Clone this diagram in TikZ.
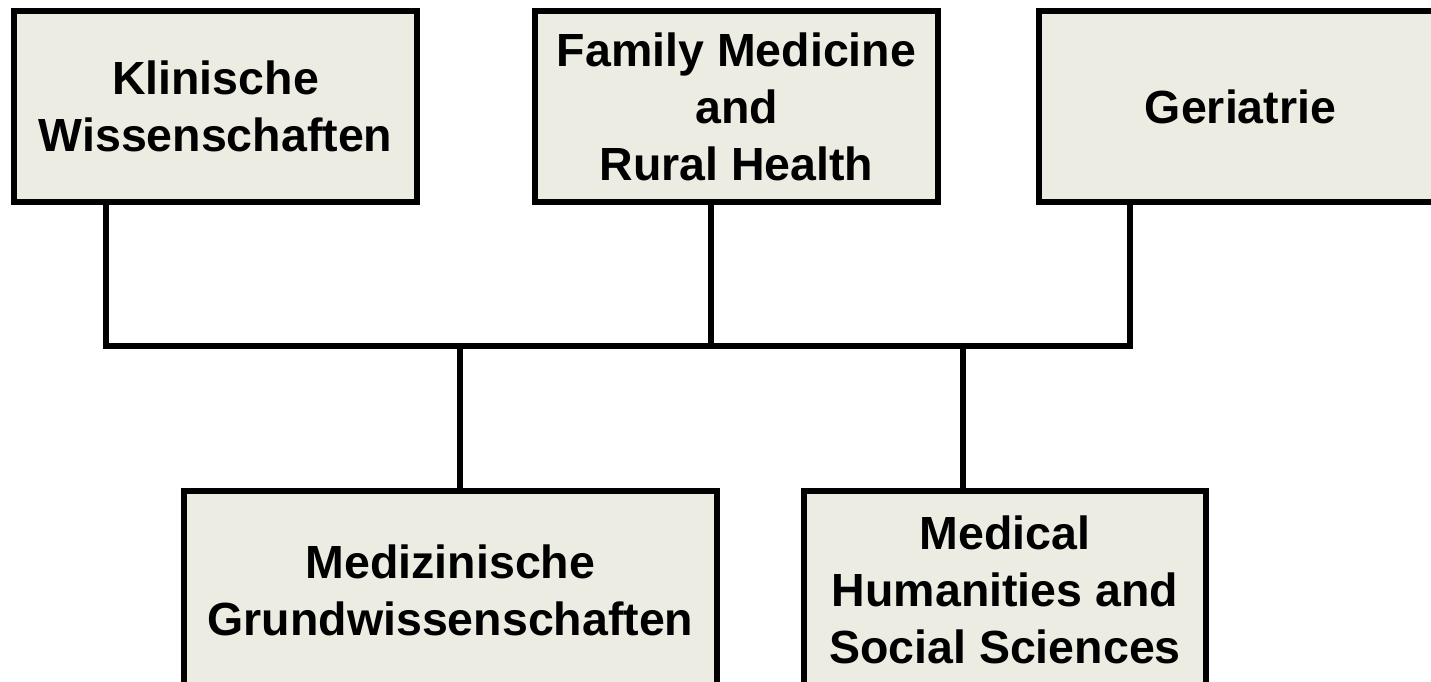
\documentclass[tikz,border=0pt]{standalone}
\usepackage{fontspec}
\setmainfont{Liberation Sans}
\definecolor{boxfill}{RGB}{236,236,226}
\begin{document}
\begin{tikzpicture}[x=1pt,y=-1pt,
  box/.style={draw=black, fill=boxfill, line width=6pt, inner sep=0pt,
    align=center, font=\fontsize{46.5}{57}\selectfont\bfseries},
  conn/.style={draw=black, line width=6pt, line cap=rect}]
\useasboundingbox (0,0) rectangle (1431,681);
\clip (0,0) rectangle (1431,681);
\fill[white] (0,0) rectangle (1431,681);
% top row
\node[box, minimum width=403pt, minimum height=191pt] (k) at (215.5,106.5) {Klinische\\Wissenschaften};
\node[box, minimum width=403pt, minimum height=191pt] (f) at (736.5,106.5) {Family Medicine\\and\\Rural Health};
\node[box, minimum width=403pt, minimum height=191pt] (g) at (1240.5,106.5) {Geriatrie};
% bottom row
\node[box, minimum width=533pt, minimum height=198pt] (m) at (450.5,590) {Medizinische\\Grundwissenschaften};
\node[box, minimum width=402pt, minimum height=198pt] (h) at (1005,590) {Medical\\Humanities and\\Social Sciences};
% junction coordinates
\coordinate (jk) at (106,346);
\coordinate (jf) at (711,346);
\coordinate (jg) at (1130,346);
\coordinate (jm) at (459.5,346);
\coordinate (jh) at (962.5,346);
% connectors
\draw[conn] (jk |- k.south) -- (jk);
\draw[conn] (jf |- f.south) -- (jf);
\draw[conn] (jg |- g.south) -- (jg);
\draw[conn] (jk) -- (jg);
\draw[conn] (jm) -- (jm |- m.north);
\draw[conn] (jh) -- (jh |- h.north);
\end{tikzpicture}
\end{document}
